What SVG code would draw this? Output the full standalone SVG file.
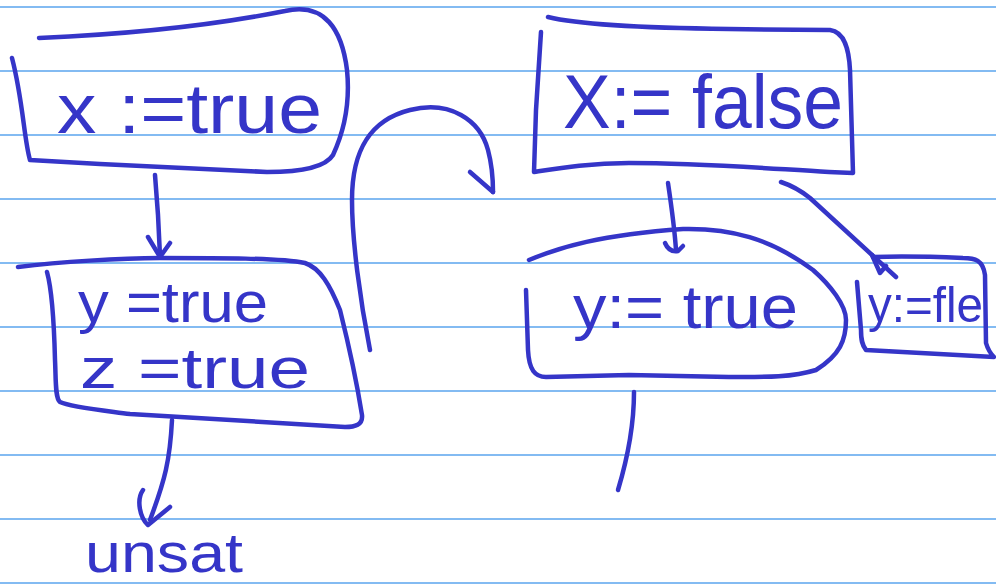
<svg xmlns="http://www.w3.org/2000/svg" width="996" height="584" viewBox="0 0 996 584">
<style>
.rule{stroke:#5aa5ee;stroke-width:1.6;fill:none}
.ink{stroke:#3535c8;stroke-width:4.5;fill:none;stroke-linecap:round;stroke-linejoin:round}
.t{fill:#3535c8;font-family:"Liberation Sans","DejaVu Sans",sans-serif}
</style>
<rect width="996" height="584" fill="#ffffff"/>
<g id="paper">
<line class="rule" x1="0" y1="7" x2="996" y2="7"/>
<line class="rule" x1="0" y1="71" x2="996" y2="71"/>
<line class="rule" x1="0" y1="135" x2="996" y2="135"/>
<line class="rule" x1="0" y1="199" x2="996" y2="199"/>
<line class="rule" x1="0" y1="263" x2="996" y2="263"/>
<line class="rule" x1="0" y1="327" x2="996" y2="327"/>
<line class="rule" x1="0" y1="391" x2="996" y2="391"/>
<line class="rule" x1="0" y1="455" x2="996" y2="455"/>
<line class="rule" x1="0" y1="519" x2="996" y2="519"/>
<line class="rule" x1="0" y1="583" x2="996" y2="583"/>
</g>
<g id="node-x-true">
<path class="ink" d="M39,38 Q180,32 285,11 C325,2 342,30 347,70 C351,110 340,140 333,155 C325,168 300,172 267,172 L100,164 L30,160 C24,140 23,100 12,58"/>
<text class="t" x="57" y="133" font-size="70" textLength="265" lengthAdjust="spacingAndGlyphs">x :=true</text>
</g>
<g id="node-yz-true">
<path class="ink" d="M18,267 C60,262 120,258 160,258 C220,258 280,258 305,263 C320,268 330,285 340,310 C350,350 358,390 362,415 C363,425 355,427 345,427 L130,414 C100,410 70,407 60,402 C55,398 56,380 55,360 C54,320 52,290 47,272"/>
<text class="t" x="78" y="322" font-size="58" textLength="190" lengthAdjust="spacingAndGlyphs">y =true</text>
<text class="t" x="80" y="388" font-size="58" textLength="230" lengthAdjust="spacingAndGlyphs">z =true</text>
</g>
<g id="node-unsat">
<text class="t" x="85" y="572" font-size="56" textLength="158" lengthAdjust="spacingAndGlyphs">unsat</text>
</g>
<g id="node-x-false">
<path class="ink" d="M548,17 C580,25 650,28 729,29 C780,30 820,30 830,30 C845,32 849,50 850,70 L853,173 L829,172 C760,168 700,163 629,163 C590,163 560,168 534,172 L536,110 L541,32"/>
<text class="t" x="563" y="128" font-size="76" textLength="280" lengthAdjust="spacingAndGlyphs">X:= false</text>
</g>
<g id="node-y-true">
<path class="ink" d="M529,260 C560,247 600,235 683,229 C730,228 770,238 813,270 C830,285 846,305 846,320 C846,340 840,355 816,370 C790,378 760,377 729,377 L629,375 L546,377 C535,377 529,370 528,350 L526,290"/>
<text class="t" x="573" y="328" font-size="62" textLength="225" lengthAdjust="spacingAndGlyphs">y:= true</text>
</g>
<g id="node-y-false">
<path class="ink" d="M873,257 C900,256 940,257 963,258 C975,258 983,260 985,275 L986,343 C988,350 992,355 994,357 L866,350 C862,345 861,340 861,330 L857,282"/>
<text class="t" x="868" y="322" font-size="50" textLength="115" lengthAdjust="spacingAndGlyphs">y:=fle</text>
</g>
<g id="connectors">
<path class="ink" d="M155,175 L158,215 L160,256"/>
<path class="ink" d="M148,237 L160,257 L170,243"/>
<path class="ink" d="M370,350 C360,300 352,240 352,200 C352,150 370,120 410,110 C450,100 480,120 488,150 C492,165 493,180 493,192"/>
<path class="ink" d="M470,172 L493,192"/>
<path class="ink" d="M172,420 C170,460 165,480 150,520"/>
<path class="ink" d="M143,490 C136,500 140,518 148,525 L170,507"/>
<path class="ink" d="M668,183 C672,210 675,235 676,250"/>
<path class="ink" d="M665,243 C668,250 672,252 678,251 L683,246"/>
<path class="ink" d="M634,392 C634,420 630,450 618,490"/>
<path class="ink" d="M781,182 C790,185 800,190 810,198 L896,277"/>
<path class="ink" d="M872,255 L880,273 L886,266"/>
</g>
</svg>
